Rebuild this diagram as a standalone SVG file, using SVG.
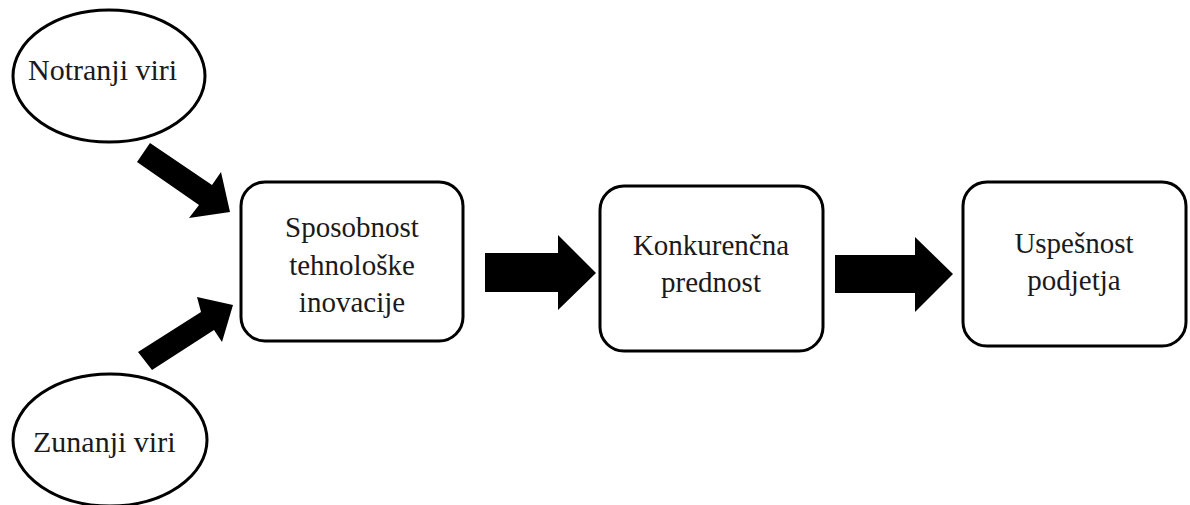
<svg xmlns="http://www.w3.org/2000/svg" width="1190" height="505" viewBox="0 0 1190 505">
<style>
.shape{fill:#fff;stroke:#000;stroke-width:3}
.lbl{font-family:"Liberation Serif","Times New Roman",serif;font-size:29px;fill:#1a1a1a}
.big{font-size:30px}
.mid{text-anchor:middle}
.arr{fill:#000;stroke:none}
</style>
<rect width="1190" height="505" fill="#fff"/>
<g id="notranji">
<ellipse class="shape" cx="109" cy="76" rx="96" ry="66"/>
<text class="lbl big" x="28" y="80">Notranji viri</text>
</g>
<g id="zunanji">
<ellipse class="shape" cx="110" cy="440" rx="97" ry="66"/>
<text class="lbl big" x="33" y="452">Zunanji viri</text>
</g>
<g id="sposobnost">
<rect class="shape" x="241" y="182" width="222" height="159" rx="24"/>
<text class="lbl mid" x="352" y="237">Sposobnost</text>
<text class="lbl mid" x="352" y="275">tehnološke</text>
<text class="lbl mid" x="352" y="312">inovacije</text>
</g>
<g id="konkurencna">
<rect class="shape" x="600" y="186" width="223" height="165" rx="24"/>
<text class="lbl mid" x="711" y="255">Konkurenčna</text>
<text class="lbl mid" x="711" y="292">prednost</text>
</g>
<g id="uspesnost">
<rect class="shape" x="963" y="182" width="223" height="164" rx="24"/>
<text class="lbl mid" x="1074" y="253">Uspešnost</text>
<text class="lbl mid" x="1074" y="290">podjetja</text>
</g>
<g id="connectors">
<polygon class="arr" points="150,143 212,185 221,172 230,212 189,218 199,205 137,162"/>
<polygon class="arr" points="138,352 201,312 197,297 233,305 222,342 214,330 152,370"/>
<polygon class="arr" points="485,253 558,253 558,235 596,273 558,310 558,292 485,292"/>
<polygon class="arr" points="835,255 915,255 915,237 953,274 915,312 915,293 835,293"/>
</g>
</svg>
